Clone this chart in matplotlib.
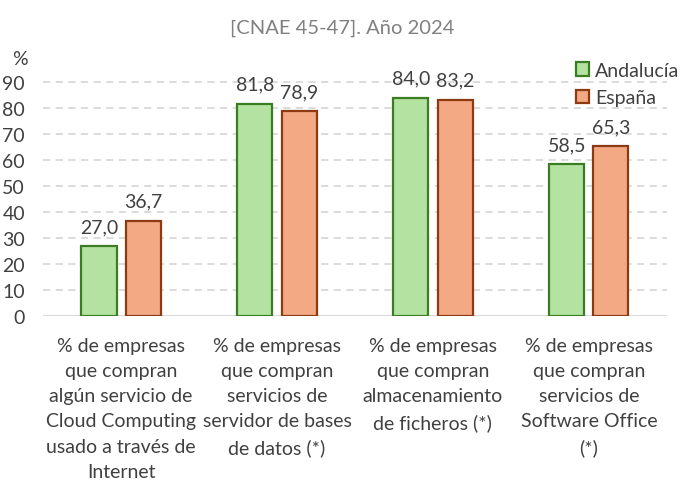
import matplotlib.pyplot as plt
import numpy as np

categorias = ["% de empresas\nque compran\nalgún servicio de\nCloud Computing\nusado a través de\nInternet",
              "% de empresas\nque compran\nservicios de\nservidor de bases\nde datos (*)",
              "% de empresas\nque compran\nalmacenamiento\nde ficheros (*)",
              "% de empresas\nque compran\nservicios de\nSoftware Office\n(*)"]
andalucia = [27.0, 81.8, 84.0, 58.5]
espana = [36.7, 78.9, 83.2, 65.3]
yticks = [0, 10, 20, 30, 40, 50, 60, 70, 80, 90]

plt.rcParams['font.family'] = ['Lato', 'DejaVu Sans']
gris = '#404040'

fig = plt.figure(figsize=(6.96, 4.85), dpi=100)
ax = fig.add_axes([0.062, 0.346, 0.896, 0.536])

x = np.arange(len(categorias))
w = 0.225
off = 0.142
b1 = ax.bar(x - off, andalucia, w, color='#b4e3a1', edgecolor='#3b7d23', linewidth=1.6, label='Andalucía', zorder=3)
b2 = ax.bar(x + off, espana, w, color='#f3aa84', edgecolor='#8b3a12', linewidth=1.6, label='España', zorder=3)

for bars, vals in ((b1, andalucia), (b2, espana)):
    for r, v in zip(bars, vals):
        ax.annotate(f"{v:.1f}".replace('.', ','), (r.get_x() + r.get_width() / 2, v),
                    xytext=(0, 8), textcoords='offset points', ha='center', va='bottom',
                    fontsize=14, color=gris)

ax.set_xlim(-0.5, 3.5)
ax.set_ylim(0, 100)
ax.set_yticks(yticks)
ax.yaxis.grid(True, color='#d9d9d9', linestyle=(0, (4, 3)), linewidth=1.3, zorder=0)
ax.axhline(0, color='#d9d9d9', linewidth=1.5, zorder=2)
for s in ax.spines.values():
    s.set_visible(False)
ax.tick_params(axis='y', length=0, pad=13, labelsize=14, labelcolor=gris)
ax.tick_params(axis='x', length=0, pad=15, labelsize=14, labelcolor=gris)
ax.set_xticks(x)
ax.set_xticklabels(categorias, linespacing=1.58)

fig.text(0.029, 0.877, '%', fontsize=14, color=gris, ha='center', va='center')
fig.text(0.492, 0.942, '[CNAE 45-47]. Año 2024', fontsize=14.5, color='#808080', ha='center', va='center')

ax.legend(loc='upper left', bbox_to_anchor=(0.827, 0.871), bbox_transform=fig.transFigure,
          frameon=False, fontsize=14, labelcolor=gris, handlelength=0.7, handleheight=0.7,
          handletextpad=0.3, labelspacing=0.55, borderpad=0, borderaxespad=0)

fig.savefig('out.png', dpi=100)
